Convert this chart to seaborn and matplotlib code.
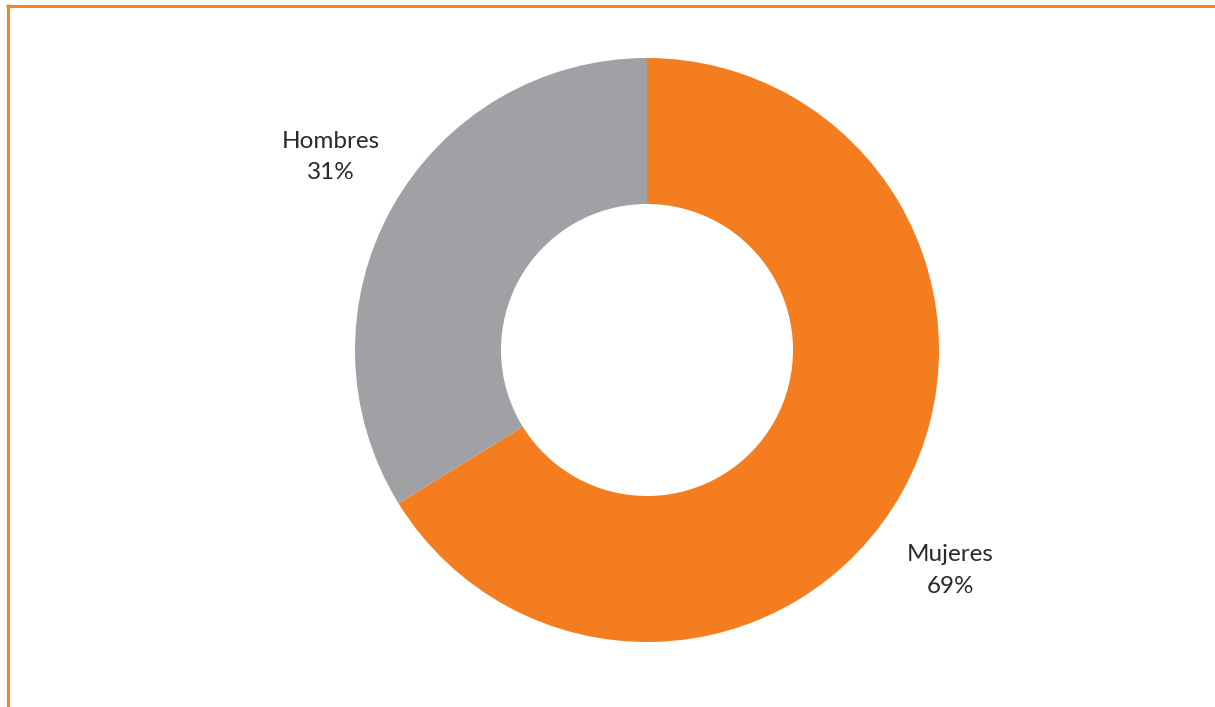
import matplotlib
matplotlib.use("Agg")
import matplotlib.pyplot as plt
from matplotlib.lines import Line2D
import seaborn as sns

categories = ["Mujeres", "Hombres"]
shares = [66.2, 33.8]          # wedge sizes as drawn
pct_labels = ["69%", "31%"]    # printed labels
colors = ["#F47D20", "#A0A1A4"]

sns.set_theme(style="white")
plt.rcParams['font.family'] = ['Lato', 'DejaVu Sans']

W, H, DPI = 1215, 707, 100
fig = plt.figure(figsize=(W / DPI, H / DPI), dpi=DPI)
ax = fig.add_axes([0, 0, 1, 1])
ax.set_facecolor("white")

R = 292.0
cx, cy = 647.0, 350.0
ax.pie(shares, colors=colors, startangle=90, counterclock=False,
       radius=1.0, wedgeprops=dict(width=0.5, edgecolor="none"))
ax.set_xlim(-cx / R, (W - cx) / R)
ax.set_ylim(-(H - cy) / R, cy / R)
ax.set_aspect("auto")
ax.axis("off")

pos = {"Hombres": (-1.082, 0.662), "Mujeres": (1.038, -0.755)}
for cat, pl in zip(categories, pct_labels):
    x, y = pos[cat]
    ax.text(x, y, f"{cat}\n{pl}", ha="center", va="center", fontsize=17.5,
            fontweight="normal", color="#2a2a2a", linespacing=1.6)

lw = 3.0 * 72 / DPI
fig.add_artist(Line2D([6 / W, 1], [1 - 5.5 / H] * 2, color="#F58426", lw=lw,
                      transform=fig.transFigure, solid_capstyle="butt"))
fig.add_artist(Line2D([7.5 / W] * 2, [0, 1 - 4 / H], color="#F58426", lw=lw,
                      transform=fig.transFigure, solid_capstyle="butt"))

fig.savefig("out.png", dpi=DPI, facecolor="white")
